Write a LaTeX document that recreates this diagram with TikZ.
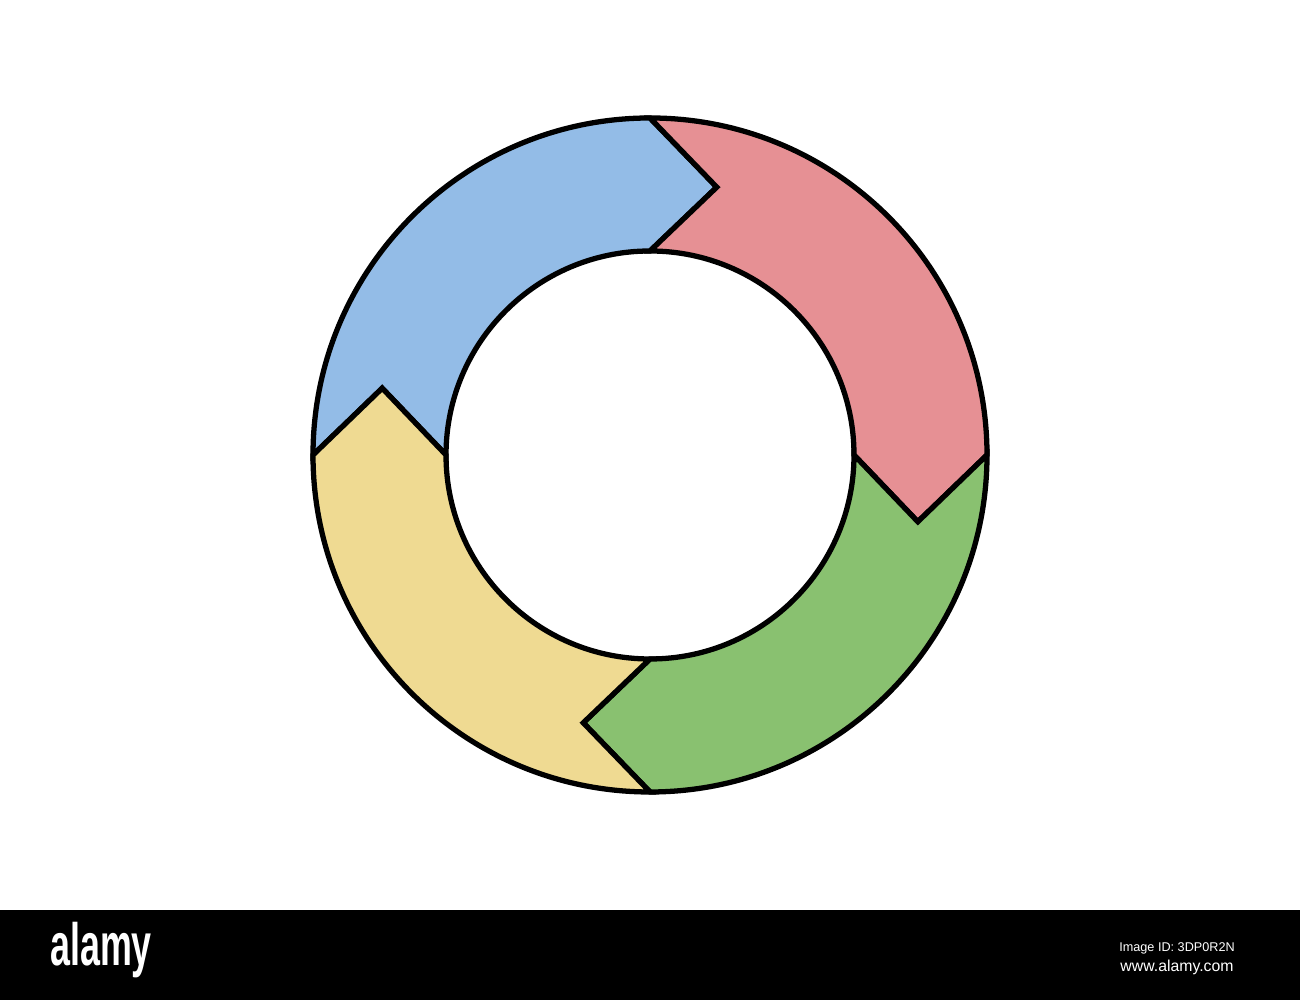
\documentclass[tikz,border=0pt]{standalone}
\usepackage{fontspec}
\setmainfont{Liberation Sans}
\usepackage{tikz}
\definecolor{bleu}{RGB}{147,188,231}
\definecolor{rouge}{RGB}{230,144,148}
\definecolor{vert}{RGB}{137,193,112}
\definecolor{jaune}{RGB}{239,218,146}

\begin{document}
\begin{tikzpicture}[scale=1]
\useasboundingbox (0,0) rectangle (13,10);
\fill [white] (0,0) rectangle (13,10);
% bandeau du bas
\fill [black] (0,0) rectangle (13,0.9);
\node [white, font=\bfseries\fontsize{17pt}{18pt}\selectfont, transform shape, xscale=0.6] (logo) at (1.01,0.5) {alamy};
\node [white, font=\fontsize{3.6pt}{4pt}\selectfont] (imgid) at (11.77,0.52) {Image ID: 3DP0R2N};
\node [white, font=\fontsize{4.5pt}{5pt}\selectfont] (site) at (11.77,0.33) {www.alamy.com};
% les quatre fleches
\begin{scope}[shift={(6.5,5.45)}]
\foreach \a/\c in {180/bleu, 90/rouge, 0/vert, -90/jaune}
  \filldraw [fill=\c, line width=1.5pt, line join=miter]
    (\a:3.37) arc (\a:\a-90:3.37) -- ({\a-104}:2.76) -- ({\a-90}:2.04)
    arc (\a-90:\a:2.04) -- ({\a-14}:2.76) -- cycle;
\end{scope}
\end{tikzpicture}
\end{document}
